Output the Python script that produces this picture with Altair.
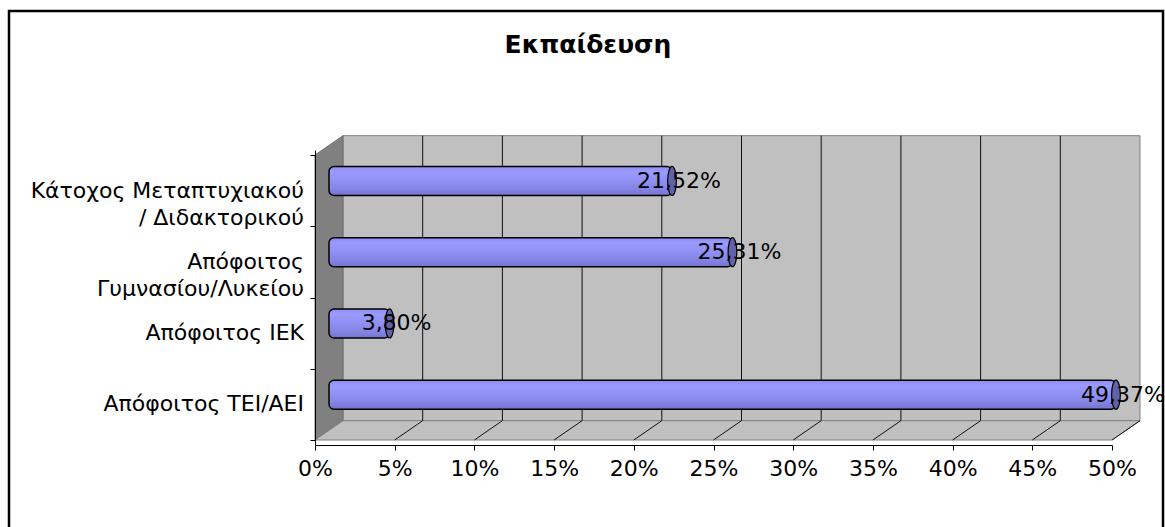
import altair as alt
import pandas as pd

# ---------------- data ----------------
title_text = "Εκπαίδευση"
categories = [
    "Απόφοιτος ΤΕΙ/ΑΕΙ",
    "Απόφοιτος ΙΕΚ",
    "Απόφοιτος\nΓυμνασίου/Λυκείου",
    "Κάτοχος Μεταπτυχιακού\n/ Διδακτορικού",
]
shares = [0.4937, 0.0380, 0.2531, 0.2152]
x_ticks = [0.0, 0.05, 0.10, 0.15, 0.20, 0.25, 0.30, 0.35, 0.40, 0.45, 0.50]

# ---------------- style constants ----------------
FONT = "DejaVu Sans"
W, H = 797, 295
N = len(categories)
DX = 28 / W * 0.5          # depth of the 3D box, in share units
DY = 20 / (H / N)          # depth of the 3D box, in category units
XMAX = x_ticks[-1]

xs = alt.Scale(domain=[0, XMAX], nice=False, zero=False)
ys = alt.Scale(domain=[0, N], nice=False, zero=False)

x_axis = alt.Axis(
    values=x_ticks, format=".0%", title=None, grid=False,
    domain=True, domainColor="black", domainWidth=1,
    ticks=True, tickColor="black", tickSize=5,
    labelFont=FONT, labelFontSize=22, labelColor="black", labelPadding=8,
    labelFlush=False, labelOverlap=False, labelBound=False,
    zindex=1,
)
y_axis = alt.Axis(
    values=list(range(N + 1)), labels=False, title=None, grid=False,
    domain=True, domainColor="black", domainWidth=1,
    ticks=True, tickColor="black", tickSize=5, zindex=1,
)

bars = pd.DataFrame({
    "cat": categories,
    "share": shares,
    "idx": list(range(N)),
})
bars["yc"] = bars["idx"] + 0.5 + DY / 2
bars["ylab"] = bars["idx"] + 0.5
bars["x0"] = DX / 2
bars["x1"] = bars["share"] + DX / 2
bars["label"] = [f"{v * 100:.2f}%".replace(".", ",") for v in shares]

wall = pd.DataFrame({"x": [DX], "x2": [XMAX + DX], "y": [DY], "y2": [N + DY]})
left_wall = pd.DataFrame({"x": [0, DX], "y": [0, DY], "y2": [N, N + DY]})
floor = pd.DataFrame({"y": [0, DY], "x": [0, DX], "x2": [XMAX, XMAX + DX]})
grid = pd.DataFrame({"v": x_ticks[1:-1]})
grid["x"] = grid["v"] + DX
grid["y"] = DY
grid["y2"] = N + DY
diag = pd.DataFrame({"v": x_ticks[1:]})
diag["x"] = diag["v"]
diag["x2"] = diag["v"] + DX
diag["y"] = 0.0
diag["y2"] = DY

one = alt.Data(values=[{}])


def X(field):
    return alt.X(field, scale=xs, axis=x_axis)


def Y(field):
    return alt.Y(field, scale=ys, axis=y_axis)


frame = alt.Chart(one).mark_rect(
    fill="white", stroke="black", strokeWidth=2.5
).encode(
    x=alt.value(-306), x2=alt.value(848), y=alt.value(-139), y2=alt.value(400)
)

back = alt.Chart(wall).mark_rect(fill="#c0c0c0", stroke="#808080", strokeWidth=1).encode(
    x=X("x:Q"), x2="x2:Q", y=Y("y:Q"), y2="y2:Q",
)

lwall = alt.Chart(left_wall).mark_area(
    orient="vertical", fill="#808080", stroke="#707070", strokeWidth=1
).encode(
    x=X("x:Q"), y=Y("y:Q"), y2="y2:Q",
)

flr = alt.Chart(floor).mark_area(
    orient="horizontal", fill="#c0c0c0", stroke="#808080", strokeWidth=1
).encode(
    y=Y("y:Q"), x=X("x:Q"), x2="x2:Q",
)

gridlines = alt.Chart(grid).mark_rule(color="#101010", strokeWidth=1).encode(
    x=X("x:Q"), y=Y("y:Q"), y2="y2:Q",
)

diags = alt.Chart(diag).mark_rule(color="#101010", strokeWidth=1).encode(
    x=X("x:Q"), x2="x2:Q", y=Y("y:Q"), y2="y2:Q",
)

grad = alt.Gradient(
    gradient="linear", x1=0, x2=0, y1=0, y2=1,
    stops=[
        alt.GradientStop(color="#8c8cf2", offset=0),
        alt.GradientStop(color="#9b9bff", offset=0.18),
        alt.GradientStop(color="#9090f4", offset=0.5),
        alt.GradientStop(color="#8585e6", offset=0.75),
        alt.GradientStop(color="#7474cf", offset=1),
    ],
)

bar = alt.Chart(bars).mark_bar(
    orient="horizontal", size=29, cornerRadius=5,
    fill=grad, stroke="black", strokeWidth=1.5,
).encode(
    x=X("x0:Q"), x2="x1:Q", y=Y("yc:Q"),
)

ELLIPSE = "M0,-1 A0.3,1 0 1,1 0,1 A0.3,1 0 1,1 0,-1 Z"
cap = alt.Chart(bars).mark_point(
    shape=ELLIPSE, size=841, filled=True, fill="#6262aa",
    stroke="black", strokeWidth=1.2, opacity=1,
).encode(
    x=X("x1:Q"), y=Y("yc:Q"),
)

vals = alt.Chart(bars).mark_text(
    font=FONT, fontSize=22, color="black", align="center", baseline="middle", dx=7,
).encode(
    x=X("x1:Q"), y=Y("yc:Q"), text="label:N",
)

cats = alt.Chart(bars).mark_text(
    font=FONT, fontSize=22, color="black", align="right", baseline="middle",
    dx=-11, lineBreak="\n", lineHeight=27,
).encode(
    x=alt.value(0), y=Y("ylab:Q"), text="cat:N",
)

title = alt.Chart(one).mark_text(
    font=FONT, fontSize=25, fontWeight="bold", color="black",
    align="center", baseline="alphabetic",
).encode(
    x=alt.value(273), y=alt.value(-97), text=alt.value(title_text)
)

chart = alt.layer(
    frame, back, lwall, flr, gridlines, diags, bar, cap, vals, cats, title
).properties(
    width=W, height=H,
    autosize=alt.AutoSizeParams(type="none"),
    padding={"left": 315, "top": 150, "right": 1165 - 315 - W, "bottom": 527 - 150 - H},
).configure_view(stroke=None).configure(background="white")

chart.save("out.html", embed_options={"renderer": "svg", "actions": False})
